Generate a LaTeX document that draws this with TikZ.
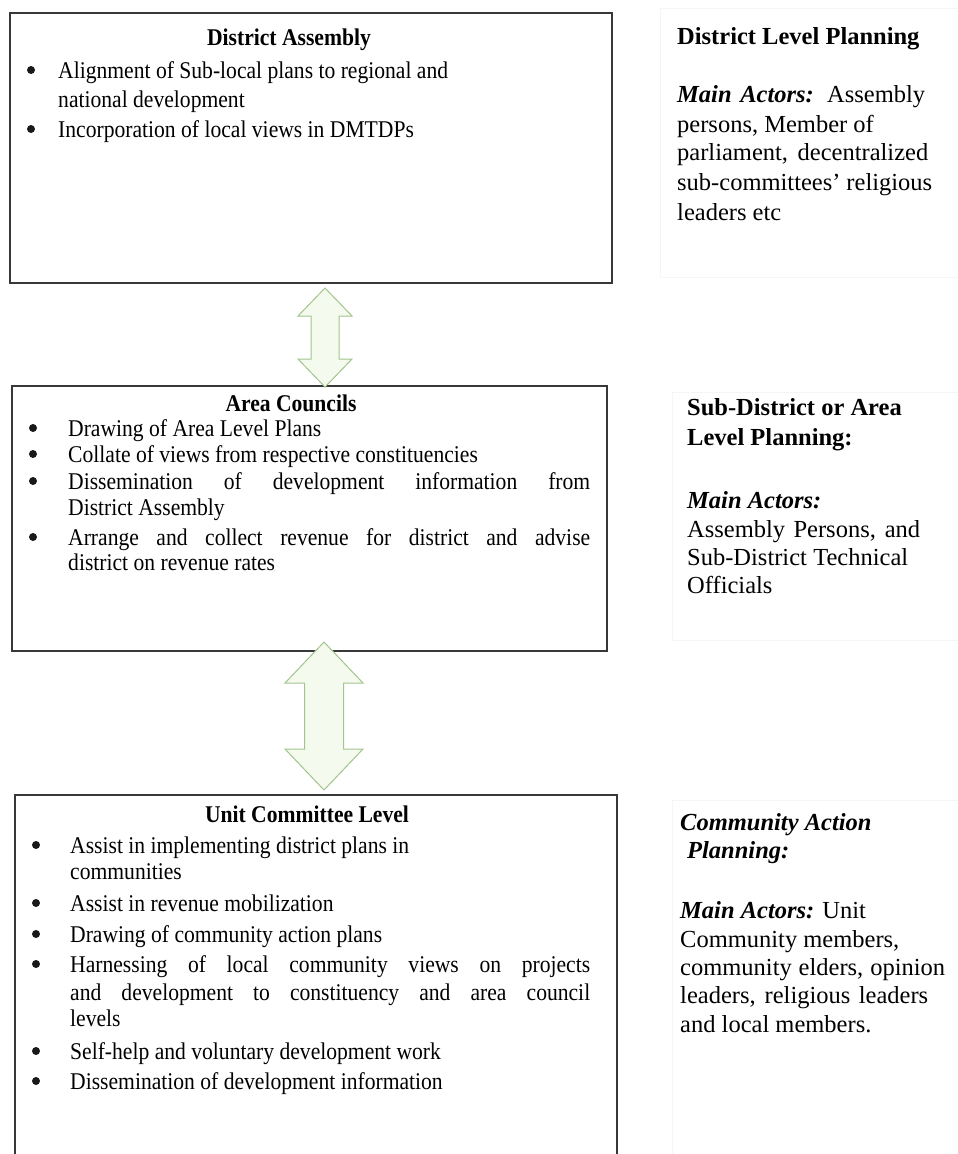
\documentclass[tikz,border=0pt]{standalone}
\usepackage{fontspec}
\setmainfont{Liberation Serif}
\newfontfamily\boxserif[FakeStretch=0.9]{Liberation Serif}
\usetikzlibrary{calc}

% type sizes for the boxes and for the side notes
\newcommand{\boxfont}{\boxserif\fontsize{24}{28}\selectfont}
\newcommand{\sidefont}{\fontsize{24.5}{29}\selectfont}
% a justified line of a given width
\newcommand{\js}[2]{\makebox[#1pt][s]{#2}}
% hollow two-headed block arrow: top tip, bottom tip, half head width, half shaft width, head length
\newcommand{\updown}[5]{%
  \draw[twoway] (#1) -- ($(#1)+(#3,#5)$) -- ($(#1)+(#4,#5)$) -- ($(#2)+(#4,-#5)$)
    -- ($(#2)+(#3,-#5)$) -- (#2) -- ($(#2)+(-#3,-#5)$) -- ($(#2)+(-#4,-#5)$)
    -- ($(#1)+(-#4,#5)$) -- ($(#1)+(-#3,#5)$) -- cycle;}

\begin{document}
\begin{tikzpicture}[x=1pt,y=-1pt,
  panel/.style={rectangle, draw=black!78, line width=1.8pt, fill=white,
    inner sep=0, outer sep=0, anchor=north west},
  side/.style={rectangle, draw=black!4, line width=0.8pt, fill=white,
    inner sep=0, outer sep=0, anchor=north west},
  title/.style={anchor=base, inner sep=0, font=\boxfont\bfseries},
  txt/.style={anchor=base west, inner sep=0, font=\boxfont},
  dot/.style={circle, fill=black!90, inner sep=0, outer sep=0, minimum size=8pt},
  stxt/.style={anchor=base west, inner sep=0, font=\sidefont},
  twoway/.style={draw={rgb,255:red,163;green,196;blue,140},
    fill={rgb,255:red,245;green,250;blue,239}, line width=1pt, line join=miter}]

\useasboundingbox[fill=white] (0,0) rectangle (958,1154);

% faint frames behind the side notes
\node[side, minimum width=310pt, minimum height=269pt] (s1) at (660,8) {};
\node[side, minimum width=298pt, minimum height=248pt] (s2) at (672,392) {};
\node[side, minimum width=298pt, minimum height=370pt] (s3) at (672,800) {};

% the three level boxes
\node[panel, minimum width=602pt, minimum height=270pt] (da) at (10,13) {};
\node[panel, minimum width=595pt, minimum height=265pt] (ac) at (12,386) {};
\node[panel, minimum width=602pt, minimum height=380pt] (uc) at (15,795) {};

% two-way arrows between the levels
\coordinate (t1) at ($(da.south west)+(315,5)$);
\coordinate (b1) at ($(ac.north west)+(313,1)$);
\coordinate (t2) at ($(ac.south west)+(312,-9)$);
\coordinate (b2) at ($(uc.north west)+(309,-5)$);
\updown{t1}{b1}{27}{14}{28}
\updown{t2}{b2}{39}{19.5}{41}

% District Assembly
\node[title] (da-t) at (289,45) {District Assembly};
\node[dot] (da-b1) at (31,70) {};
\node[txt] (da-1) at (58,78) {Alignment of Sub-local plans to regional and};
\node[txt] (da-2) at (58,107) {national development};
\node[dot] (da-b2) at (31,129) {};
\node[txt] (da-3) at (58,137) {Incorporation of local views in DMTDPs};

% Area Councils
\node[title] (ac-t) at (291,411) {Area Councils};
\node[dot] (ac-b1) at (33,428) {};
\node[txt] (ac-1) at (68,436) {Drawing of Area Level Plans};
\node[dot] (ac-b2) at (33,454) {};
\node[txt] (ac-2) at (68,462) {Collate of views from respective constituencies};
\node[dot] (ac-b3) at (33,481) {};
\node[txt] (ac-3) at (68,489) {\js{522}{Dissemination of development information from}};
\node[txt] (ac-4) at (68,515) {District Assembly};
\node[dot] (ac-b4) at (33,537) {};
\node[txt] (ac-5) at (68,545) {\js{522}{Arrange and collect revenue for district and advise}};
\node[txt] (ac-6) at (68,570) {district on revenue rates};

% Unit Committee Level
\node[title] (uc-t) at (307,822) {Unit Committee Level};
\node[dot] (uc-b1) at (36,845) {};
\node[txt] (uc-1) at (70,853) {Assist in implementing district plans in};
\node[txt] (uc-2) at (70,879) {communities};
\node[dot] (uc-b2) at (36,903) {};
\node[txt] (uc-3) at (70,911) {Assist in revenue mobilization};
\node[dot] (uc-b3) at (36,934) {};
\node[txt] (uc-4) at (70,942) {Drawing of community action plans};
\node[dot] (uc-b4) at (36,964) {};
\node[txt] (uc-5) at (70,972) {\js{520}{Harnessing of local community views on projects}};
\node[txt] (uc-6) at (70,1000) {\js{520}{and development to constituency and area council}};
\node[txt] (uc-7) at (70,1026) {levels};
\node[dot] (uc-b5) at (36,1051) {};
\node[txt] (uc-8) at (70,1059) {Self-help and voluntary development work};
\node[dot] (uc-b6) at (36,1081) {};
\node[txt] (uc-9) at (70,1089) {Dissemination of development information};

% side note: district level
\node[stxt] (n1-t) at (677,44) {\bfseries District Level Planning};
\node[stxt] (n1-1) at (677,102) {\js{248}{\textbf{\textit{Main Actors:}} Assembly}};
\node[stxt] (n1-2) at (677,132) {persons, Member of};
\node[stxt] (n1-3) at (677,160) {\js{251}{parliament, decentralized}};
\node[stxt] (n1-4) at (677,190) {\js{255}{sub-committees’ religious}};
\node[stxt] (n1-5) at (677,220) {leaders etc};

% side note: area level
\node[stxt] (n2-t1) at (687,415) {\bfseries Sub-District or Area};
\node[stxt] (n2-t2) at (687,445) {\bfseries Level Planning:};
\node[stxt] (n2-1) at (687,508) {\textbf{\textit{Main Actors:}}};
\node[stxt] (n2-2) at (687,537) {\js{233}{Assembly Persons, and}};
\node[stxt] (n2-3) at (687,565) {\js{221}{Sub-District Technical}};
\node[stxt] (n2-4) at (687,593) {Officials};

% side note: community level
\node[stxt] (n3-t1) at (680,830) {\textbf{\textit{Community Action}}};
\node[stxt] (n3-t2) at (687,858) {\textbf{\textit{Planning:}}};
\node[stxt] (n3-1) at (680,918) {\textbf{\textit{Main Actors:}} Unit};
\node[stxt] (n3-2) at (680,947) {Community members,};
\node[stxt] (n3-3) at (680,975) {\js{265}{community elders, opinion}};
\node[stxt] (n3-4) at (680,1003) {\js{248}{leaders, religious leaders}};
\node[stxt] (n3-5) at (680,1032) {and local members.};
\end{tikzpicture}
\end{document}
